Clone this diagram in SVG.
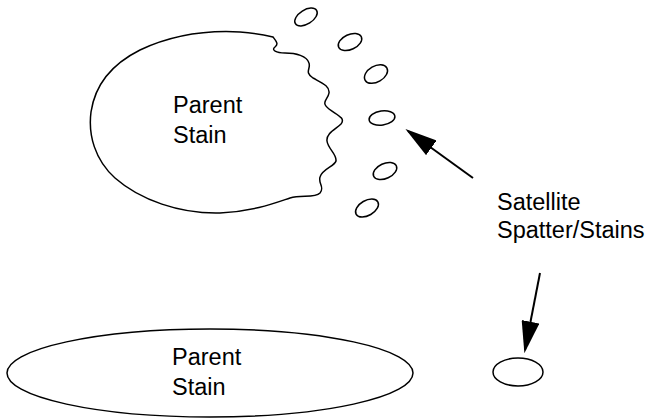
<svg xmlns="http://www.w3.org/2000/svg" width="650" height="419" viewBox="0 0 650 419">
<style>
.o{fill:none;stroke:#000;stroke-width:1.5}
.t{font-family:"Liberation Sans",Arial,sans-serif;font-size:23.5px;fill:#000}
.c{stroke:#000;stroke-width:2;fill:none}
</style>
<defs>
<marker id="ah" viewBox="0 0 10 10" refX="9" refY="5" markerWidth="32" markerHeight="18" markerUnits="userSpaceOnUse" orient="auto" preserveAspectRatio="none"><path d="M0,0 L10,5 L0,10 Z" fill="#000"/></marker>
</defs>
<rect width="650" height="419" fill="#fff"/>
<g id="parent-top">
<path class="o" d="M273,37 C276,41 279,44 275,47 C271,50 276,53 285,53 C296,53 307,56 309,63 C311,69 304,72 313,78 C322,83 330,86 329,93 C328,100 320,102 329,109 C337,115 346,118 341,124 C336,129 326,133 327,141 C328,149 337,154 336,161 C335,166 322,169 320,177 C318,184 325,187 320,193 C315,198 302,195 290,198 C275,203 255,211 220,213 C180,214 140,200 115,178 C95,160 88,135 91,112 C95,85 112,64 140,50 C170,36 205,30 240,32 C255,33 265,35 273,37 Z"/>
<text class="t" x="173" y="113">Parent</text>
<text class="t" x="173" y="143">Stain</text>
</g>
<g id="satellites-top" class="o">
<ellipse cx="306" cy="17" rx="12.5" ry="7" transform="rotate(-32 306 17)"/>
<ellipse cx="350" cy="42" rx="12.5" ry="7.5" transform="rotate(-25 350 42)"/>
<ellipse cx="376" cy="74" rx="12.5" ry="8" transform="rotate(-30 376 74)"/>
<ellipse cx="382" cy="118" rx="13" ry="7" transform="rotate(-8 382 118)"/>
<ellipse cx="385" cy="171" rx="12.5" ry="7.5" transform="rotate(-25 385 171)"/>
<ellipse cx="367" cy="208" rx="12.5" ry="7.5" transform="rotate(-30 367 208)"/>
</g>
<g id="label">
<text class="t" x="497" y="210">Satellite</text>
<text class="t" x="497" y="238">Spatter/Stains</text>
</g>
<g id="parent-bottom">
<ellipse class="o" cx="210" cy="373" rx="203" ry="44"/>
<text class="t" x="172" y="365">Parent</text>
<text class="t" x="172" y="395">Stain</text>
</g>
<g id="satellite-bottom">
<ellipse class="o" cx="518" cy="372" rx="25" ry="14"/>
</g>
<g id="connectors">
<line class="c" x1="473" y1="178" x2="408" y2="131" marker-end="url(#ah)"/>
<line class="c" x1="540" y1="273" x2="525" y2="350" marker-end="url(#ah)"/>
</g>
</svg>
